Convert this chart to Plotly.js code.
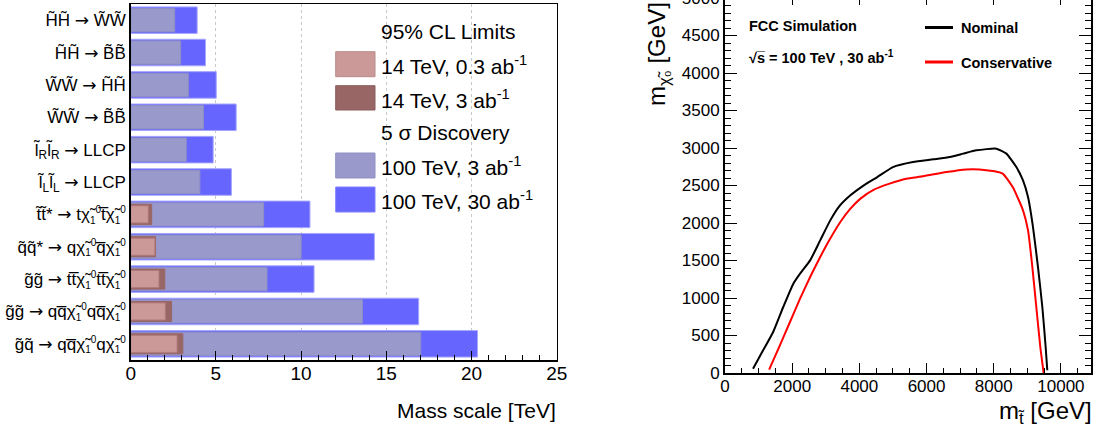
<!DOCTYPE html>
<html><head><meta charset="utf-8">
<script src="https://cdn.plot.ly/plotly-3.0.1.min.js"></script>
<style>
html,body{margin:0;padding:0;overflow:hidden;background:#fff}
#wrap{position:relative;width:1097px;height:428px;overflow:hidden}
#chart{position:absolute;left:0;top:-12px;width:1097px;height:440px}
</style>
</head><body><div id="wrap"><div id="chart"></div></div>
<script>
// ---------------- data: left panel ----------------
const AR = "<span style=\"font-family:'DejaVu Sans'\">→</span>";
const CHI = "χ̃<sub><span style=\"font-size:10px\">1</span></sub><sup><span style=\"font-size:10px\">0</span></sup>";
const categories = [
  "H̃H̃ " + AR + " W̃W̃",
  "H̃H̃ " + AR + " B̃B̃",
  "W̃W̃ " + AR + " H̃H̃",
  "W̃W̃ " + AR + " B̃B̃",
  "l̃<sub>R</sub>l̃<sub>R</sub> " + AR + " LLCP",
  "l̃<sub>L</sub>l̃<sub>L</sub> " + AR + " LLCP",
  "t̃t̃* " + AR + " t" + CHI + "t̅" + CHI,
  "q̃q̃* " + AR + " q" + CHI + "q̅" + CHI,
  "g̃g̃ " + AR + " tt̅" + CHI + "tt̅" + CHI,
  "g̃g̃ " + AR + " qq̅" + CHI + "qq̅" + CHI,
  "g̃q̃ " + AR + " qq̅" + CHI + "q" + CHI
];
const lim14_03 = [null, null, null, null, null, null, 1.03, 1.42, 1.66, 2.03, 2.72];
const lim14_3  = [null, null, null, null, null, null, 1.23, 1.46, 2.00, 2.40, 3.06];
const disc100_3  = [2.58, 2.93, 3.38, 4.27, 3.26, 4.06, 7.80, 10.00, 8.00, 13.60, 17.02];
const disc100_30 = [3.90, 4.39, 5.02, 6.19, 4.84, 5.91, 10.52, 14.30, 10.76, 16.90, 20.35];
const legendLabels = ["95% CL Limits", "14 TeV, 0.3 ab<sup>-1</sup>", "14 TeV, 3 ab<sup>-1</sup>",
                      "5 σ Discovery", "100 TeV, 3 ab<sup>-1</sup>", "100 TeV, 30 ab<sup>-1</sup>"];

// ---------------- data: right panel ----------------
const nomX = [834, 1134, 1434, 1734, 2034, 2234, 2534, 2834, 3133, 3383, 3733, 4133, 4533, 5000,
              5594, 6197, 6693, 7089, 7485, 8079, 8376, 8673, 8871, 9020, 9168, 9317, 9446, 9545, 9594];
const nomY = [58, 302, 547, 880, 1191, 1325, 1502, 1769, 2035, 2213, 2369, 2502, 2613, 2746,
              2813, 2849, 2880, 2925, 2969, 2991, 2925, 2746, 2569, 2346, 1946, 1413, 880, 347, 36];
const consX = [1314, 1634, 1934, 2234, 2534, 2834, 3133, 3433, 3733, 4033, 4433, 4900, 5400,
               5891, 6584, 7178, 7574, 7970, 8267, 8564, 8871, 9020, 9149, 9267, 9386, 9485];
const consY = [45, 369, 680, 992, 1280, 1546, 1792, 2013, 2191, 2325, 2445, 2525, 2590,
               2622, 2679, 2715, 2715, 2693, 2658, 2479, 2169, 1902, 1413, 880, 347, 0];

// ---------------- layout helpers ----------------
const W = 1097, H = 440, MT = 7, MB = 55;
const PH = H - MT - MB;               // plot-area height in px
const px = x => x / W;                 // image x -> paper
const py = y => (373 - y) / PH;        // image y -> paper
const FONT = "Liberation Sans, Arial, sans-serif";

const colBlue = '#6666ff', colGrey = '#9999cc', colDark = '#996666', colLight = '#cc9999';

const traces = [
  {type:'bar', orientation:'h', y:categories, x:disc100_30, width:0.82, xaxis:'x', yaxis:'y',
   marker:{color:colBlue, line:{color:'#a6a6ff', width:1}}},
  {type:'bar', orientation:'h', y:categories, x:disc100_3, width:0.72, xaxis:'x', yaxis:'y',
   marker:{color:colGrey, line:{color:'#8f8fc4', width:1}}},
  {type:'bar', orientation:'h', y:categories, x:lim14_3, width:0.62, xaxis:'x', yaxis:'y',
   marker:{color:colDark, line:{color:'#996666', width:1}}},
  {type:'bar', orientation:'h', y:categories, x:lim14_03, width:0.53, xaxis:'x', yaxis:'y',
   marker:{color:colLight, line:{color:'#b07a7a', width:1}}},
  {type:'scatter', mode:'lines', x:nomX, y:nomY, xaxis:'x2', yaxis:'y2',
   line:{color:'#000000', width:2, shape:'spline', smoothing:0.5}},
  {type:'scatter', mode:'lines', x:consX, y:consY, xaxis:'x2', yaxis:'y2',
   line:{color:'#ff0000', width:2, shape:'spline', smoothing:0.5}}
];

// legend swatches (left panel)
const sw = [
  {y0:51.7, y1:76.7, c:colLight, l:'#b88a8a'},
  {y0:85.7, y1:110,  c:colDark,  l:'#8a5c5c'},
  {y0:153,  y1:178,  c:colGrey,  l:'#8f8fc4'},
  {y0:187,  y1:212,  c:colBlue,  l:'#8080ff'}
];
const shapes = sw.map(s => ({type:'rect', xref:'paper', yref:'paper',
  x0:px(335.7), x1:px(375), y0:py(s.y1), y1:py(s.y0),
  fillcolor:s.c, line:{color:s.l, width:1}}));
// legend lines (right panel)
shapes.push({type:'line', xref:'paper', yref:'paper', x0:px(925), x1:px(953), y0:py(27.5), y1:py(27.5),
  line:{color:'#000', width:3}});
shapes.push({type:'line', xref:'paper', yref:'paper', x0:px(925), x1:px(953), y0:py(62), y1:py(62),
  line:{color:'#ff0000', width:3}});

const legY = [31.5, 65, 99, 132.5, 166, 200];
const annotations = legendLabels.map((t, i) => ({
  text:t, xref:'paper', yref:'paper', x:px(379), y:py(legY[i]), xanchor:'left', yanchor:'middle',
  showarrow:false, font:{family:FONT, size:21, color:'#000'}
}));
annotations.push({text:'Mass scale [TeV]', xref:'paper', yref:'paper', x:px(558), y:py(410),
  xanchor:'right', yanchor:'middle', showarrow:false, font:{family:FONT, size:21, color:'#000'}});
annotations.push({text:'m<sub>t̃</sub> [GeV]', xref:'paper', yref:'paper', x:px(1094), y:py(412),
  xanchor:'right', yanchor:'middle', showarrow:false, font:{family:FONT, size:24, color:'#000'}});
annotations.push({text:'m<sub>χ̃₀</sub> [GeV]', xref:'paper', yref:'paper', x:px(658), y:py(108),
  xanchor:'center', yanchor:'bottom', textangle:-90, showarrow:false,
  font:{family:FONT, size:24, color:'#000'}});
annotations.push({text:'<b>FCC Simulation</b>', xref:'paper', yref:'paper', x:px(747), y:py(26),
  xanchor:'left', yanchor:'middle', showarrow:false, font:{family:FONT, size:14.5, color:'#000'}});
annotations.push({text:'<b>√s̅ = 100 TeV , 30 ab<sup>-1</sup></b>', xref:'paper', yref:'paper', x:px(747), y:py(57),
  xanchor:'left', yanchor:'middle', showarrow:false, font:{family:FONT, size:14.5, color:'#000'}});
annotations.push({text:'<b>Nominal</b>', xref:'paper', yref:'paper', x:px(959), y:py(28),
  xanchor:'left', yanchor:'middle', showarrow:false, font:{family:FONT, size:14.5, color:'#000'}});
annotations.push({text:'<b>Conservative</b>', xref:'paper', yref:'paper', x:px(959), y:py(63),
  xanchor:'left', yanchor:'middle', showarrow:false, font:{family:FONT, size:14.5, color:'#000'}});

const layout = {
  width:W, height:H, margin:{l:0, r:0, t:MT, b:MB, pad:0},
  paper_bgcolor:'#fff', plot_bgcolor:'rgba(0,0,0,0)',
  font:{family:FONT, color:'#000'},
  showlegend:false, barmode:'overlay', hovermode:false,
  xaxis:{domain:[px(130.7), px(556.7)], range:[0,25], dtick:5, tick0:0,
    ticks:'inside', ticklen:9, tickwidth:1, tickcolor:'#000', ticklabelstandoff:-4,
    minor:{dtick:1, ticks:'inside', ticklen:5, tickwidth:1, tickcolor:'#000', showgrid:false},
    showgrid:true, gridcolor:'#c8c8c8', gridwidth:1, griddash:'dot',
    showline:true, linecolor:'#000', linewidth:1.5, mirror:true, zeroline:false,
    tickfont:{family:FONT, size:19}, anchor:'y', fixedrange:true},
  yaxis:{domain:[py(360), py(4)], type:'category', range:[10.5, -0.5],
    showline:true, linecolor:'#000', linewidth:1.5, mirror:true, ticks:'', showgrid:false,
    zeroline:false, tickfont:{family:FONT, size:17}, anchor:'x', fixedrange:true},
  xaxis2:{domain:[px(725), px(1090.5)], range:[0,10880], dtick:2000, tick0:0, tickformat:'d',
    ticks:'inside', ticklen:10, tickwidth:1, tickcolor:'#000', ticklabelstandoff:-3,
    minor:{dtick:500, ticks:'inside', ticklen:5, tickwidth:1, tickcolor:'#000', showgrid:false},
    showgrid:false, showline:true, linecolor:'#000', linewidth:2, mirror:'allticks', zeroline:false,
    tickfont:{family:FONT, size:17}, anchor:'y2', fixedrange:true},
  yaxis2:{domain:[0,1], range:[0,5040], dtick:500, tick0:0, tickformat:'d',
    ticks:'inside', ticklen:12, tickwidth:1, tickcolor:'#000',
    minor:{dtick:100, ticks:'inside', ticklen:6, tickwidth:1, tickcolor:'#000', showgrid:false},
    showgrid:false, showline:true, linecolor:'#000', linewidth:2, mirror:'allticks', zeroline:false,
    tickfont:{family:FONT, size:17}, anchor:'x2', fixedrange:true},
  shapes:shapes, annotations:annotations
};

Plotly.newPlot('chart', traces, layout, {staticPlot:true, displayModeBar:false});
</script>
</body></html>
